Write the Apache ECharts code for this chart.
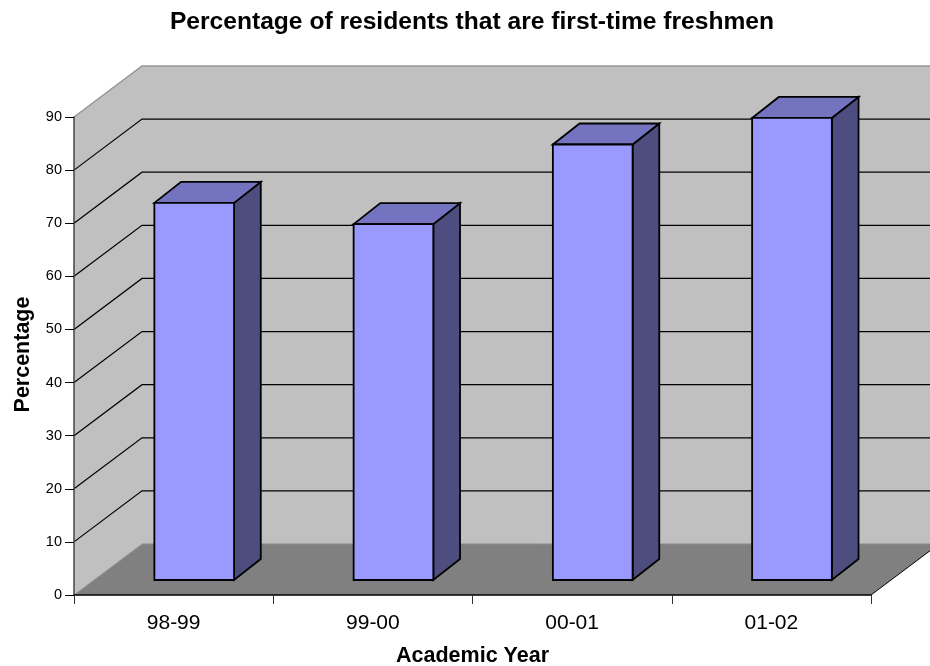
<!DOCTYPE html>
<html>
<head>
<meta charset="utf-8">
<title>First-time freshmen</title>
<style>html,body{margin:0;padding:0;background:#fff}#chart{width:930px;height:666px}</style>
<script src="https://cdn.jsdelivr.net/npm/echarts@6/dist/echarts.min.js"></script>
</head>
<body>
<div id="chart"></div>
<script>
// Academic years and their share of first-time freshmen among residents
const categories = ['98-99', '99-00', '00-01', '01-02'];
const percentages = [71, 67, 82, 87];
const gridValues = [10, 20, 30, 40, 50, 60, 70, 80];

const chartTitle = 'Percentage of residents that are first-time freshmen';
const xAxisTitle = 'Academic Year';
const yAxisTitle = 'Percentage';

// Oblique projection: pixel shift for the full depth of the plot box,
// and for where a bar starts and how deep it runs inside that box
const DEPTH = { dx: 68, dy: -51 };
const BAR_START = { dx: 20.6, dy: -15 };
const BAR_DEPTH = { dx: 26.7, dy: -21 };
const BAR_WIDTH_RATIO = 0.4;

const shift = (p, d) => [p[0] + d.dx, p[1] + d.dy];

function renderBox(params, api) {
  const x0 = params.coordSys.x;
  const x1 = x0 + params.coordSys.width;
  const yBottom = api.coord([0, 0])[1];
  const yTop = api.coord([0, 90])[1];
  const fl = [x0, yBottom], fr = [x1, yBottom], tl = [x0, yTop], tr = [x1, yTop];
  const children = [
    { type: 'polygon', shape: { points: [tl, shift(tl, DEPTH), shift(tr, DEPTH), shift(fr, DEPTH), shift(fl, DEPTH), fl] },
      style: { fill: '#c0c0c0', stroke: null } },
    { type: 'polygon', shape: { points: [fl, fr, shift(fr, DEPTH), shift(fl, DEPTH)] },
      style: { fill: '#808080', stroke: null } },
    { type: 'polyline', shape: { points: [tl, shift(tl, DEPTH), shift(tr, DEPTH)] },
      style: { fill: null, stroke: '#969696', lineWidth: 1.5 } },
    { type: 'polyline', shape: { points: [fl, shift(fl, DEPTH)] },
      style: { fill: null, stroke: '#969696', lineWidth: 1 } },
    { type: 'polyline', shape: { points: [shift(fl, DEPTH), shift(fr, DEPTH)] },
      style: { fill: null, stroke: '#8c8c8c', lineWidth: 1 } },
    { type: 'polyline', shape: { points: [fr, shift(fr, DEPTH)] },
      style: { fill: null, stroke: '#000', lineWidth: 1 } }
  ];
  gridValues.forEach(function (v) {
    const y = api.coord([0, v])[1];
    const a = [x0, y], b = shift(a, DEPTH), c = shift([x1, y], DEPTH);
    children.push({ type: 'polyline', shape: { points: [a, b, c] },
      style: { fill: null, stroke: '#000', lineWidth: 1.2 } });
  });
  return { type: 'group', children: children };
}

function renderBar(params, api) {
  const base = api.coord([api.value(0), 0]);
  const top = api.coord([api.value(0), api.value(1)]);
  const half = api.size([1, 0])[0] * BAR_WIDTH_RATIO / 2;
  const bl = shift([base[0] - half, base[1]], BAR_START);
  const br = shift([base[0] + half, base[1]], BAR_START);
  const tl = shift([base[0] - half, top[1]], BAR_START);
  const tr = shift([base[0] + half, top[1]], BAR_START);
  const edge = { stroke: '#000', lineWidth: 1.8, lineJoin: 'miter' };
  return { type: 'group', children: [
    { type: 'polygon', shape: { points: [tr, shift(tr, BAR_DEPTH), shift(br, BAR_DEPTH), br] },
      style: Object.assign({ fill: '#4d4d80' }, edge) },
    { type: 'polygon', shape: { points: [tl, shift(tl, BAR_DEPTH), shift(tr, BAR_DEPTH), tr] },
      style: Object.assign({ fill: '#7373bf' }, edge) },
    { type: 'polygon', shape: { points: [tl, tr, br, bl] },
      style: Object.assign({ fill: '#9999ff' }, edge) }
  ] };
}

const chart = echarts.init(document.getElementById('chart'), null, { renderer: 'canvas' });
const fontFamily = '"Liberation Sans", Arial, sans-serif';

chart.setOption({
  animation: false,
  backgroundColor: '#fff',
  title: {
    text: chartTitle,
    left: 467, top: 5, textAlign: 'center',
    textStyle: { fontFamily, fontSize: 24.6, fontWeight: 'bold', color: '#000' }
  },
  grid: { left: 74, right: 59, top: 117, bottom: 71, outerBoundsMode: 'none' },
  xAxis: {
    type: 'category',
    data: categories,
    z: 5,
    name: xAxisTitle,
    nameLocation: 'middle',
    nameGap: 50,
    nameTextStyle: { fontFamily, fontSize: 21.5, fontWeight: 'bold', color: '#000' },
    axisLine: { lineStyle: { color: '#000', width: 1.5 } },
    axisTick: { show: true, length: 9, alignWithLabel: false, lineStyle: { color: '#333' } },
    axisLabel: { fontFamily, fontSize: 21, color: '#000', margin: 18, interval: 0 },
    splitLine: { show: false }
  },
  yAxis: {
    type: 'value',
    min: 0, max: 90, interval: 10,
    z: 5,
    name: yAxisTitle,
    nameLocation: 'middle',
    nameGap: 40,
    nameRotate: 90,
    nameTextStyle: { fontFamily, fontSize: 21.5, fontWeight: 'bold', color: '#000', padding: [0, 0, 0, 3] },
    axisLine: { show: true, lineStyle: { color: '#444', width: 1.5 } },
    axisTick: { show: true, length: 9, lineStyle: { color: '#000' } },
    axisLabel: { fontFamily, fontSize: 14.5, color: '#000', margin: 12 },
    splitLine: { show: false }
  },
  series: [
    { type: 'custom', silent: true, z: 1, data: [[0, 0]], renderItem: renderBox, encode: { x: 0, y: 1 } },
    { type: 'custom', silent: true, z: 2, data: percentages.map((v, i) => [i, v]), renderItem: renderBar, encode: { x: 0, y: 1 } }
  ]
});
</script>
</body>
</html>
